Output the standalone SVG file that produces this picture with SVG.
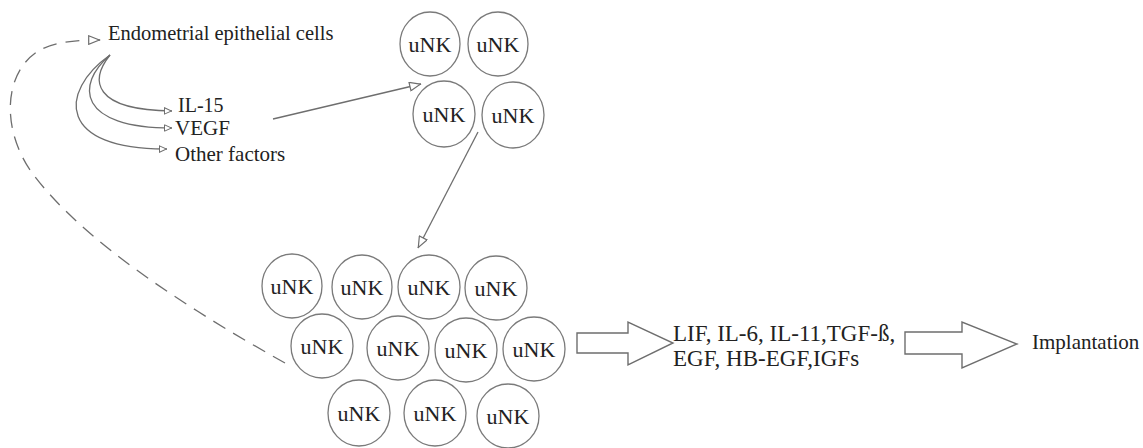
<svg xmlns="http://www.w3.org/2000/svg" width="1143" height="448" viewBox="0 0 1143 448">
<style>
.t{font-family:"Liberation Serif","Times New Roman","DejaVu Serif",serif;fill:#222}
.c{fill:#fff;stroke:#7a7a7a;stroke-width:1.3}
.u{font-family:"Liberation Serif","Times New Roman","DejaVu Serif",serif;font-size:22px;fill:#222;text-anchor:middle}
.ln{fill:none;stroke:#6e6e6e;stroke-width:1.3}
.big{fill:#fff;stroke:#6e6e6e;stroke-width:1.4}
</style>
<defs>
<marker id="open" viewBox="0 0 12 10" refX="12" refY="5" markerWidth="13" markerHeight="10" markerUnits="userSpaceOnUse" orient="auto">
<path d="M0.7,0.7 L11.3,5 L0.7,9.3 z" fill="#fff" stroke="#6e6e6e" stroke-width="1.2"/>
</marker>
<marker id="small" viewBox="0 0 8 8" refX="8" refY="4" markerWidth="8" markerHeight="8" markerUnits="userSpaceOnUse" orient="auto">
<path d="M0.5,0.8 L7.5,4 L0.5,7.2 z" fill="#fff" stroke="#6e6e6e" stroke-width="1"/>
</marker>
</defs>
<rect width="1143" height="448" fill="#fff"/>

<g id="connectors">
<path class="ln" d="M285,363 C190,310 80,240 30,170 C0,125 5,70 40,50 C55,42 75,40 100,40" stroke-dasharray="14,9" marker-end="url(#open)"/>
<path class="ln" d="M110,55 C90,80 92,110 172,111" marker-end="url(#small)"/>
<path class="ln" d="M110,55 C75,85 78,128 172,128" marker-end="url(#small)"/>
<path class="ln" d="M110,55 C58,92 58,150 167,149" marker-end="url(#small)"/>
<line class="ln" x1="273" y1="119" x2="421" y2="84" marker-end="url(#open)"/>
<line class="ln" x1="478" y1="132" x2="418" y2="248" marker-end="url(#open)"/>
<polygon class="big" points="577,333 628,333 628,322 673,343 628,365 628,353 577,353"/>
<polygon class="big" points="905,332 962,332 962,322 1017,344 962,368 962,354 905,354"/>
</g>

<g id="endometrial"><text class="t" x="108" y="40" font-size="20.5">Endometrial epithelial cells</text></g>
<g id="il15"><text class="t" x="178" y="112" font-size="20">IL-15</text></g>
<g id="vegf"><text class="t" x="175" y="135" font-size="21">VEGF</text></g>
<g id="other"><text class="t" x="175" y="161" font-size="21">Other factors</text></g>

<g id="top1"><ellipse class="c" cx="430" cy="44" rx="30" ry="32"/><text class="u" x="430" y="52">uNK</text></g>
<g id="top2"><ellipse class="c" cx="498" cy="44" rx="30" ry="32"/><text class="u" x="498" y="52">uNK</text></g>
<g id="top3"><ellipse class="c" cx="444" cy="114" rx="31" ry="33"/><text class="u" x="444" y="122">uNK</text></g>
<g id="top4"><ellipse class="c" cx="513" cy="115" rx="31" ry="33"/><text class="u" x="513" y="123">uNK</text></g>

<g id="b1"><ellipse class="c" cx="292" cy="286" rx="30" ry="32"/><text class="u" x="292" y="294">uNK</text></g>
<g id="b2"><ellipse class="c" cx="362" cy="287" rx="30" ry="32"/><text class="u" x="362" y="295">uNK</text></g>
<g id="b3"><ellipse class="c" cx="429" cy="287" rx="31" ry="32"/><text class="u" x="429" y="295">uNK</text></g>
<g id="b4"><ellipse class="c" cx="496" cy="288" rx="31" ry="32"/><text class="u" x="496" y="296">uNK</text></g>
<g id="b5"><ellipse class="c" cx="322" cy="346" rx="31" ry="32"/><text class="u" x="322" y="354">uNK</text></g>
<g id="b6"><ellipse class="c" cx="398" cy="348" rx="31" ry="32"/><text class="u" x="398" y="356">uNK</text></g>
<g id="b7"><ellipse class="c" cx="466" cy="350" rx="31" ry="32"/><text class="u" x="466" y="358">uNK</text></g>
<g id="b8"><ellipse class="c" cx="534" cy="349" rx="31" ry="32"/><text class="u" x="534" y="357">uNK</text></g>
<g id="b9"><ellipse class="c" cx="359" cy="413" rx="31" ry="33"/><text class="u" x="359" y="421">uNK</text></g>
<g id="b10"><ellipse class="c" cx="435" cy="413" rx="31" ry="33"/><text class="u" x="435" y="421">uNK</text></g>
<g id="b11"><ellipse class="c" cx="508" cy="416" rx="31" ry="32"/><text class="u" x="508" y="424">uNK</text></g>

<g id="factors"><text class="t" font-size="23"><tspan x="673" y="341">LIF, IL-6, IL-11,TGF-ß,</tspan><tspan x="673" y="366">EGF, HB-EGF,IGFs</tspan></text></g>
<g id="implantation"><text class="t" x="1032" y="349" font-size="21">Implantation</text></g>
</svg>
